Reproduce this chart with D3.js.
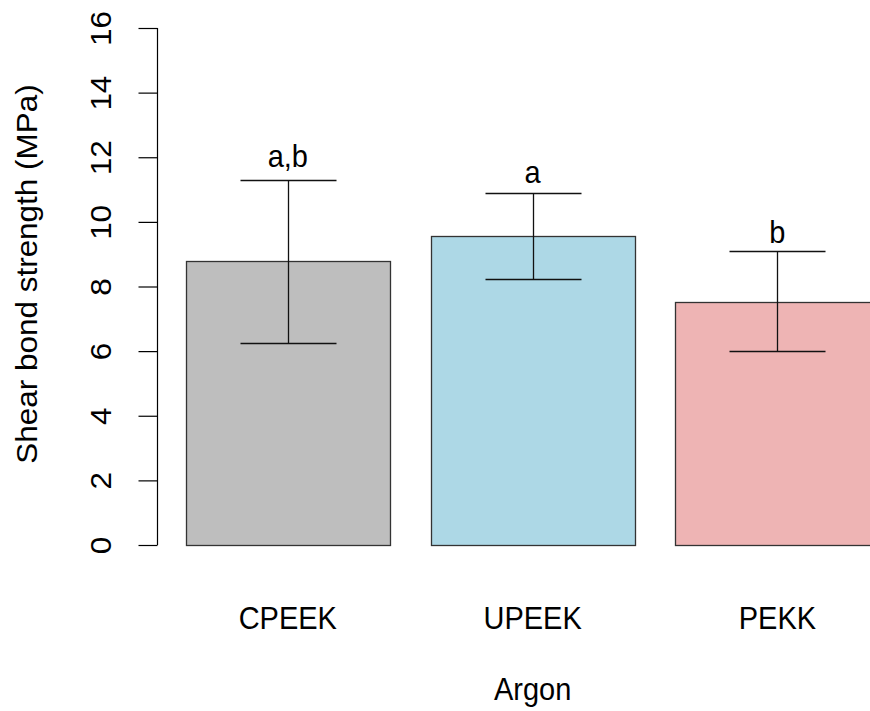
<!DOCTYPE html>
<html>
<head>
<meta charset="utf-8">
<script src="https://cdn.jsdelivr.net/npm/d3@7"></script>
<style>
  html, body { margin: 0; padding: 0; background: #fff; }
  svg { display: block; }
  text { font-family: "Liberation Sans", Arial, sans-serif; fill: #000; }
</style>
</head>
<body>
<svg id="chart" width="870" height="711"></svg>
<script>
// ---- data ----
const categories = ["CPEEK", "UPEEK", "PEKK"];
const means = [8.79, 9.56, 7.52];
const lower = [6.25, 8.22, 6.00];
const upper = [11.29, 10.89, 9.09];
const letters = ["a,b", "a", "b"];
const letterY = [11.70, 11.20, 9.35];
const colors = ["#BEBEBE", "#ADD8E6", "#EEB4B4"];
const yTicks = [0, 2, 4, 6, 8, 10, 12, 14, 16];
const xTitle = "Argon";
const yTitle = "Shear bond strength (MPa)";

// ---- layout ----
const svg = d3.select("#chart");
const barWidth = 1, space = 0.2;
const x = d3.scaleLinear().domain([0, 3.6]).range([145, 879.4]);
const y = d3.scaleLinear().domain([0, 16]).range([545, 28]);
const fontSize = 29;
const stretch = 1.085; // text in the reference is slightly stretched vertically

const barLeft = i => space + i * (barWidth + space);
const barCenter = i => barLeft(i) + barWidth / 2;

// bars
svg.append("g").selectAll("rect")
  .data(means)
  .join("rect")
  .attr("x", (d, i) => Math.round(x(barLeft(i))) + 0.5)
  .attr("y", d => Math.round(y(d)) + 0.5)
  .attr("width", (d, i) => Math.round(x(barLeft(i) + barWidth)) - Math.round(x(barLeft(i))))
  .attr("height", d => Math.round(y(0)) - Math.round(y(d)))
  .attr("fill", (d, i) => colors[i])
  .attr("stroke", "#333")
  .attr("stroke-width", 1.3);

// error bars
const capHalf = 48;
const eg = svg.append("g").attr("stroke", "#111").attr("stroke-width", 1.3);
means.forEach((m, i) => {
  const cx = Math.round(x(barCenter(i))) + 0.5;
  eg.append("line").attr("x1", cx).attr("x2", cx)
    .attr("y1", Math.round(y(lower[i])) + 0.5).attr("y2", Math.round(y(upper[i])) + 0.5);
  eg.append("line").attr("x1", cx - capHalf).attr("x2", cx + capHalf)
    .attr("y1", Math.round(y(upper[i])) + 0.5).attr("y2", Math.round(y(upper[i])) + 0.5);
  eg.append("line").attr("x1", cx - capHalf).attr("x2", cx + capHalf)
    .attr("y1", Math.round(y(lower[i])) + 0.5).attr("y2", Math.round(y(lower[i])) + 0.5);
});

// horizontal text helper
function hText(g, tx, ty, str) {
  return g.append("text")
    .attr("transform", `translate(${tx},${ty}) scale(1,${stretch})`)
    .attr("text-anchor", "middle")
    .attr("font-size", fontSize)
    .text(str);
}

// significance letters
const lg = svg.append("g");
letters.forEach((d, i) => hText(lg, x(barCenter(i)), y(letterY[i]), d));

// y axis
const yAxis = d3.axisLeft(y).tickValues(yTicks).tickSize(19).tickPadding(0).tickFormat(d3.format("d"));
const gy = svg.append("g").attr("transform", "translate(157.5,0)").call(yAxis);
gy.select(".domain").attr("d", `M0,${y(16)}V${y(0)}`).attr("stroke", "#000").attr("stroke-width", 1.2);
gy.selectAll(".tick line").attr("stroke", "#000").attr("stroke-width", 1.2);
gy.selectAll(".tick text")
  .attr("font-size", fontSize)
  .attr("font-family", "Liberation Sans, Arial, sans-serif")
  .attr("fill", "#000")
  .attr("text-anchor", "middle")
  .attr("dy", null)
  .attr("x", null)
  .attr("transform", `translate(-47,0) rotate(-90) scale(${stretch},1)`);

// category labels
const cg = svg.append("g");
categories.forEach((d, i) => hText(cg, x(barCenter(i)), 629, d));

// axis titles
hText(svg, x(barCenter(1)), 700, xTitle);

svg.append("text")
  .attr("transform", `translate(37,274) rotate(-90) scale(${stretch},1)`)
  .attr("text-anchor", "middle")
  .attr("font-size", fontSize)
  .text(yTitle);
</script>
</body>
</html>
